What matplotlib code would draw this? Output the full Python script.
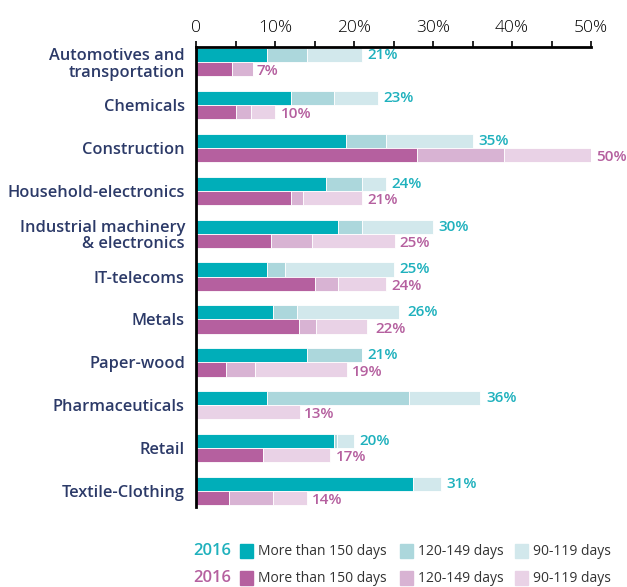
import numpy as np
import matplotlib
matplotlib.use('Agg')
import matplotlib.pyplot as plt
from matplotlib.patches import Rectangle

plt.rcParams['font.family'] = ['Open Sans', 'DejaVu Sans']

# Data (percent of companies by payment delay)
categories = ['Automotives and\ntransportation', 'Chemicals', 'Construction',
              'Household-electronics', 'Industrial machinery\n& electronics',
              'IT-telecoms', 'Metals', 'Paper-wood', 'Pharmaceuticals',
              'Retail', 'Textile-Clothing']
a_150 = [9, 12, 19, 16.5, 18, 9, 9.7, 14, 9, 17.5, 27.5]
a_120 = [5, 5.5, 5, 4.5, 3, 2.3, 3.1, 7, 18, 0.3, 0]
a_90 = [7, 5.5, 11, 3, 9, 13.7, 12.9, 0, 9, 2.2, 3.5]
a_totals = [21, 23, 35, 24, 30, 25, 26, 21, 36, 20, 31]

b_150 = [4.6, 5, 28, 12, 9.5, 15, 13, 3.8, 0, 8.5, 4.2]
b_120 = [2.6, 2, 11, 1.5, 5.2, 3, 2.2, 3.7, 0, 0, 5.5]
b_90 = [0, 3, 11, 7.5, 10.5, 6, 6.5, 11.6, 13.2, 8.5, 4.4]
b_totals = [7, 10, 50, 21, 25, 24, 22, 19, 13, 17, 14]

legend_labels = ['More than 150 days', '120-149 days', '90-119 days']
year_labels = ['2016', '2016']

teal = ['#00aeb9', '#acd7dc', '#d2e8ec']
mag = ['#b5609f', '#d8b3d3', '#e9d2e6']
teal_txt = '#1fb1bd'
mag_txt = '#b5609f'
navy = '#2c3a68'

fig = plt.figure(figsize=(6.27, 5.87), dpi=100)
ax = fig.add_axes([0.3126, 0.1363, 0.63, 0.7836])

y = np.arange(len(categories))
h = 0.33

left = np.zeros(len(categories))
for vals, c in zip([a_150, a_120, a_90], teal):
    ax.barh(y - h / 2, vals, height=h, left=left, color=c, edgecolor='white', linewidth=0.6)
    left += np.array(vals)
left = np.zeros(len(categories))
for vals, c in zip([b_150, b_120, b_90], mag):
    ax.barh(y + h / 2, vals, height=h, left=left, color=c, edgecolor='white', linewidth=0.6)
    left += np.array(vals)

for i in range(len(categories)):
    ax.annotate(f'{a_totals[i]}%', (a_totals[i], y[i] - h / 2), xytext=(4, 0),
                textcoords='offset points', va='center', ha='left',
                color=teal_txt, fontsize=11, fontweight='semibold', annotation_clip=False)
    ax.annotate(f'{b_totals[i]}%', (b_totals[i], y[i] + h / 2), xytext=(4, -1.5),
                textcoords='offset points', va='center', ha='left',
                color=mag_txt, fontsize=11, fontweight='semibold', annotation_clip=False)

ax.set_xlim(0, 50)
ax.set_ylim(10.37, -0.35)
ax.xaxis.tick_top()
ax.set_xticks(np.arange(0, 51, 5))
ax.set_xticklabels([('0' if v == 0 else f'{v}%') if v % 10 == 0 else '' for v in range(0, 51, 5)],
                   fontweight='light')
ax.tick_params(axis='x', length=4, width=1.2, pad=4, labelsize=12.5, colors='black')
ax.set_yticks(y)
ax.set_yticklabels(categories, fontsize=11.8, fontweight='semibold', color=navy, linespacing=1.05)
ax.tick_params(axis='y', length=0, pad=8)
for s in ['right', 'bottom']:
    ax.spines[s].set_visible(False)
ax.spines['top'].set_linewidth(2)
ax.spines['left'].set_linewidth(2)

# legend
rows = [(0.0613, teal, teal_txt), (0.0153, mag, mag_txt)]
sq_x = [240, 400, 515]
for (yy, cols, tc), yr in zip(rows, year_labels):
    fig.text(193 / 627, yy, yr, color=tc, fontsize=12, fontweight='semibold', va='center', ha='left')
    for x0, c, lab in zip(sq_x, cols, legend_labels):
        fig.patches.append(Rectangle((x0 / 627, yy - 7 / 587), 13 / 627, 14 / 587,
                                     transform=fig.transFigure, color=c))
        fig.text((x0 + 18) / 627, yy, lab, color='#333333', fontsize=10, va='center', ha='left')

fig.savefig('out.png', dpi=100)
